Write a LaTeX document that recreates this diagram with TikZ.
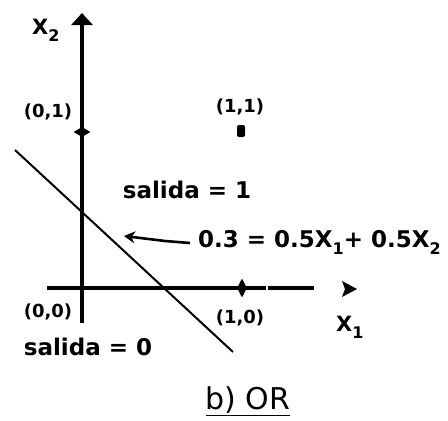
\documentclass[tikz,border=0pt]{standalone}
\usepackage{fontspec}
\setmainfont{DejaVu Sans}
\usetikzlibrary{arrows.meta,shapes.geometric}
\newcommand\lsub[1]{\raisebox{-7pt}{\fontsize{16}{16}\selectfont #1}}
\begin{document}
\begin{tikzpicture}[x=1pt,y=-1pt,
  lbl/.style={font=\bfseries\fontsize{23}{23}\selectfont, inner sep=0pt},
  axlbl/.style={font=\bfseries\fontsize{21}{21}\selectfont, inner sep=0pt, anchor=base west},
  pt/.style={font=\bfseries\fontsize{18}{18}\selectfont, inner sep=0pt},
  axis/.style={line width=3.8pt},
  tick/.style={diamond, fill=black, inner sep=0pt}]
\useasboundingbox (0,0) rectangle (448,421);
% axes
\coordinate (O) at (82,288);
\coordinate (ytop) at (82,13);
\coordinate (ybot) at (82,323);
\coordinate (xl) at (47,288);
\coordinate (xm) at (266,288);
\coordinate (xn) at (268,288);
\coordinate (xr) at (314,288);
\coordinate (xtip) at (357,289);
\draw[axis,-{Triangle[width=21pt,length=12pt]}] (ybot) -- (ytop);
\draw[axis] (xl) -- (xm);
\draw[line width=3.2pt] (xn) -- (xr);
\fill (xtip) -- ([shift={(-15,-8)}]xtip) -- ([shift={(-12,0)}]xtip) -- ([shift={(-15,8)}]xtip) -- cycle;
\node[tick, minimum width=17pt, minimum height=10pt] (t01) at (82,132) {};
\node[tick, minimum width=10pt, minimum height=19pt] (t10) at (242,288) {};
% decision line
\coordinate (d1) at (15,150);
\coordinate (d2) at (233,352);
\draw[line width=2pt] (d1) -- (d2);
% point (1,1)
\node[fill=black, rounded corners=2pt, minimum width=8pt, minimum height=12pt, inner sep=0pt] (p11) at (241,131) {};
% labels
\node[axlbl] (x2) at (32,34) {X\lsub{2}};
\node[axlbl] (x1) at (336,331) {X\lsub{1}};
\node[pt] (l01) at (48,112) {(0,1)};
\node[pt] (l11) at (240,107) {(1,1)};
\node[pt] (l00) at (48,312) {(0,0)};
\node[pt] (l10) at (240,318) {(1,0)};
\node[lbl] (s1) at (187,190) {salida = 1};
\node[lbl] (s0) at (88,347) {salida = 0};
\node[lbl, anchor=west] (eq) at (198,242) {0.3 = 0.5X\lsub{1}+ 0.5X\lsub{2}};
\coordinate (at) at (190,243);
\coordinate (ah) at (124,236);
\draw[line width=2.6pt, -{Stealth[width=12pt,length=11pt]}] (at) -- (165,241) -- (ah);
\node[font=\fontsize{30}{30}\selectfont, inner sep=0pt] (title) at (248,401) {\underline{b) OR}};
\end{tikzpicture}
\end{document}
